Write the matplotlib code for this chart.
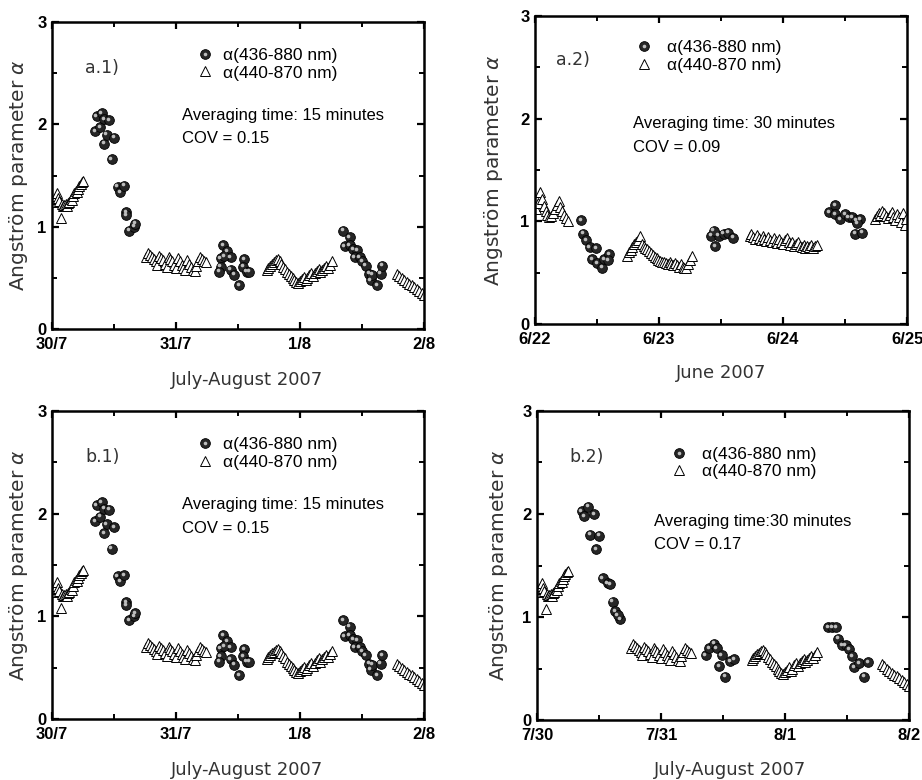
import matplotlib
matplotlib.use('Agg')
import matplotlib.pyplot as plt
import matplotlib.transforms as mtransforms
from matplotlib.legend_handler import HandlerTuple

# DATA ========================================================================

# July-August 2007, 440-870 nm (triangles), time in days from 30/7 00:00.
JUL_TRI_DAYS = [0.01, 0.02, 0.03, 0.04, 0.05, 0.06, 0.07, 0.08, 0.09, 0.10,
                0.11, 0.12, 0.13, 0.14, 0.15, 0.16, 0.17, 0.18, 0.19, 0.20,
                0.21, 0.22, 0.23, 0.24, 0.25,
                0.76, 0.775, 0.79, 0.805, 0.82, 0.835, 0.85, 0.865, 0.88,
                0.895, 0.91, 0.925, 0.94, 0.955, 0.97, 0.985, 1.0, 1.015,
                1.03, 1.045, 1.06, 1.075, 1.09, 1.105, 1.12, 1.135, 1.15,
                1.165, 1.18, 1.195, 1.21, 1.225, 1.24,
                1.73, 1.745, 1.76, 1.775, 1.79, 1.805, 1.82, 1.835, 1.85,
                1.865, 1.88, 1.895, 1.91, 1.925, 1.94, 1.955, 1.97, 1.985,
                2.0, 2.015, 2.03, 2.045, 2.06, 2.075, 2.09, 2.105, 2.12,
                2.135, 2.15, 2.165, 2.18, 2.195, 2.21, 2.225, 2.24, 2.255,
                2.78, 2.80, 2.82, 2.84, 2.86, 2.88, 2.90, 2.92, 2.94, 2.96,
                2.98, 3.0]
JUL_TRI_ALPHA = [1.24, 1.27, 1.30, 1.33, 1.28, 1.25, 1.08, 1.22, 1.20, 1.21,
                 1.22, 1.20, 1.23, 1.24, 1.27, 1.26, 1.30, 1.33, 1.35, 1.34,
                 1.37, 1.40, 1.42, 1.44, 1.45,
                 0.70, 0.74, 0.72, 0.70, 0.68, 0.66, 0.63, 0.71, 0.69,
                 0.67, 0.64, 0.61, 0.70, 0.68, 0.66, 0.63, 0.60, 0.69,
                 0.66, 0.63, 0.60, 0.58, 0.67, 0.64, 0.61, 0.58, 0.57,
                 0.62, 0.66, 0.70, 0.68, 0.66, 0.65,
                 0.58, 0.60, 0.62, 0.64, 0.65, 0.67, 0.68, 0.66, 0.64,
                 0.61, 0.59, 0.56, 0.54, 0.52, 0.50, 0.48, 0.46, 0.45,
                 0.47, 0.49, 0.51, 0.48, 0.50, 0.53, 0.55, 0.52, 0.55,
                 0.57, 0.59, 0.56, 0.58, 0.60, 0.62, 0.60, 0.63, 0.66,
                 0.54, 0.52, 0.50, 0.48, 0.46, 0.44, 0.43, 0.41, 0.39, 0.37,
                 0.35, 0.33]

# July-August 2007, 436-880 nm, 15 minutes (circles).
JUL15_CIR_DAYS = [0.35, 0.36, 0.39, 0.40, 0.42, 0.42, 0.46, 0.44, 0.50, 0.48,
                  0.53, 0.55, 0.58, 0.60, 0.60, 0.62, 0.66, 0.67,
                  1.38, 1.41, 1.44, 1.36, 1.36, 1.35, 1.44, 1.47, 1.51, 1.55,
                  1.54, 1.57, 1.59, 1.39,
                  2.35, 2.36, 2.40, 2.40, 2.43, 2.46, 2.44, 2.48, 2.50, 2.53,
                  2.56, 2.57, 2.58, 2.62, 2.65, 2.66]
JUL15_CIR_ALPHA = [1.93, 2.08, 1.97, 2.11, 2.05, 1.81, 2.04, 1.90, 1.87, 1.66,
                   1.39, 1.34, 1.40, 1.14, 1.11, 0.96, 1.00, 1.03,
                   0.82, 0.76, 0.70, 0.69, 0.61, 0.56, 0.58, 0.53, 0.43, 0.68,
                   0.61, 0.56, 0.56, 0.71,
                   0.96, 0.81, 0.90, 0.82, 0.78, 0.77, 0.70, 0.70, 0.66, 0.62,
                   0.54, 0.48, 0.53, 0.43, 0.54, 0.62]

# July-August 2007, 436-880 nm, 30 minutes (circles).
JUL30_CIR_DAYS = [0.36, 0.38, 0.41, 0.46, 0.43, 0.50, 0.48, 0.53, 0.57, 0.59,
                  0.61, 0.63, 0.67, 0.65,
                  1.36, 1.39, 1.43, 1.45, 1.49, 1.47, 1.52, 1.56, 1.59,
                  2.35, 2.38, 2.41, 2.43, 2.46, 2.49, 2.52, 2.54, 2.56, 2.60,
                  2.64, 2.67]
JUL30_CIR_ALPHA = [2.03, 1.98, 2.07, 2.00, 1.80, 1.79, 1.66, 1.38, 1.33, 1.32,
                   1.15, 1.06, 0.98, 1.02,
                   0.63, 0.70, 0.74, 0.70, 0.63, 0.52, 0.42, 0.57, 0.59,
                   0.90, 0.90, 0.90, 0.79, 0.73, 0.73, 0.69, 0.62, 0.51, 0.55,
                   0.42, 0.56]

# June 2007, 440-870 nm (triangles), days from 6/22 00:00.
JUN_TRI_DAYS = [0.01, 0.025, 0.04, 0.055, 0.07, 0.085, 0.10, 0.115, 0.13,
                0.145, 0.16, 0.175, 0.19, 0.205, 0.22, 0.235, 0.25, 0.265,
                0.74, 0.755, 0.77, 0.785, 0.80, 0.815, 0.83, 0.845, 0.86,
                0.875, 0.89, 0.905, 0.92, 0.935, 0.95, 0.965, 0.98, 0.995,
                1.01, 1.025, 1.04, 1.055, 1.07, 1.085, 1.10, 1.115, 1.13,
                1.145, 1.16, 1.175, 1.19, 1.205, 1.22, 1.235, 1.25, 1.265,
                1.73, 1.745, 1.76, 1.775, 1.79, 1.805, 1.82, 1.835, 1.85,
                1.865, 1.88, 1.895, 1.91, 1.925, 1.94, 1.955, 1.97, 1.985,
                2.0, 2.015, 2.03, 2.045, 2.06, 2.075, 2.09, 2.105, 2.12,
                2.135, 2.15, 2.165, 2.18, 2.195, 2.21, 2.225, 2.24, 2.255,
                2.27,
                2.74, 2.755, 2.77, 2.785, 2.80, 2.815, 2.83, 2.845, 2.86,
                2.875, 2.89, 2.905, 2.92, 2.935, 2.95, 2.965, 2.98, 2.995]
JUN_TRI_ALPHA = [1.12, 1.18, 1.29, 1.22, 1.15, 1.10, 1.06, 1.04, 1.05,
                 1.08, 1.12, 1.16, 1.20, 1.14, 1.10, 1.06, 1.03, 1.00,
                 0.66, 0.70, 0.72, 0.75, 0.78, 0.80, 0.82, 0.86, 0.78,
                 0.76, 0.74, 0.73, 0.71, 0.69, 0.67, 0.65, 0.64, 0.62,
                 0.61, 0.60, 0.60, 0.59, 0.58, 0.60, 0.58, 0.57, 0.59,
                 0.57, 0.56, 0.58, 0.56, 0.55, 0.55, 0.58, 0.62, 0.66,
                 0.86, 0.88, 0.85, 0.83, 0.87, 0.84, 0.82, 0.86, 0.83,
                 0.81, 0.85, 0.82, 0.80, 0.84, 0.81, 0.79, 0.83, 0.80,
                 0.78, 0.82, 0.84, 0.80, 0.77, 0.80, 0.76, 0.78, 0.80,
                 0.76, 0.75, 0.77, 0.74, 0.76, 0.75, 0.77, 0.74, 0.76,
                 0.77,
                 1.02, 1.05, 1.08, 1.06, 1.10, 1.08, 1.05, 1.03, 1.06,
                 1.09, 1.04, 1.01, 1.07, 1.04, 0.99, 1.08, 0.96, 1.02]

# June 2007, 436-880 nm, 30 minutes (circles).
JUN_CIR_DAYS = [0.37, 0.39, 0.41, 0.44, 0.49, 0.46, 0.50, 0.54, 0.56, 0.60,
                0.59,
                1.42, 1.45, 1.48, 1.52, 1.56, 1.60, 1.44,
                2.37, 2.42, 2.42, 2.46, 2.50, 2.53, 2.56, 2.59, 2.62, 2.58,
                2.64, 2.60]
JUN_CIR_ALPHA = [1.01, 0.88, 0.82, 0.75, 0.74, 0.63, 0.59, 0.55, 0.63, 0.68,
                 0.62,
                 0.86, 0.76, 0.86, 0.88, 0.89, 0.84, 0.91,
                 1.09, 1.16, 1.07, 1.02, 1.07, 1.04, 1.04, 1.01, 1.02, 0.88,
                 0.89, 0.98]

# Tick labels.
JUL_EU_LABELS = ['30/7', '31/7', '1/8', '2/8']
JUN_LABELS = ['6/22', '6/23', '6/24', '6/25']
JUL_US_LABELS = ['7/30', '7/31', '8/1', '8/2']
Y_LABELS = ['0', '1', '2', '3']

LEG_LABELS = ['α(436-880 nm)', 'α(440-870 nm)']

# PLOT ========================================================================

fig = plt.figure(figsize=(9.22, 7.8), dpi=100)

LABEL_FONT = 'DejaVu Sans'
TEXT_FONT = 'Liberation Sans'


def draw_panel(rect, tri_x, tri_y, cir_x, cir_y, xlabels, xlabel, tag,
               tag_xy, avg_text, avg_xy, leg_anchor, leg_pad, ylab_x,
               xlab_xy):
    ax = fig.add_axes(rect)
    ax.plot(tri_x, tri_y, ls='none', marker='^', ms=7.2, mfc='white',
            mec='black', mew=0.7)
    ball, = ax.plot(cir_x, cir_y, ls='none', marker='o', ms=7.0,
                    mfc='#262626', mec='black', mew=0.6)
    shift = mtransforms.offset_copy(ax.transData, fig=fig, x=-1.3, y=1.3,
                                    units='dots')
    hi, = ax.plot(cir_x, cir_y, ls='none', marker='o', ms=2.6, mfc='#bdbdbd',
                  mec='none', transform=shift)
    tri_h, = ax.plot([], [], ls='none', marker='^', ms=7.2, mfc='white',
                     mec='black', mew=0.7)

    ax.set_xlim(0, 3)
    ax.set_ylim(0, 3)
    ax.set_xticks([0, 1, 2, 3])
    ax.set_xticks([0.5, 1.5, 2.5], minor=True)
    ax.set_yticks([0, 1, 2, 3])
    ax.set_yticks([0.5, 1.5, 2.5], minor=True)
    ax.set_xticklabels(xlabels, fontweight='bold', family=TEXT_FONT,
                       fontsize=12)
    ax.set_yticklabels(Y_LABELS, fontweight='bold', family=TEXT_FONT,
                       fontsize=12)
    ax.tick_params(which='both', direction='in', top=True, right=True)
    ax.tick_params(which='major', length=5, width=1.6, pad=6)
    ax.tick_params(axis='y', which='major', pad=4)
    ax.tick_params(which='minor', length=3.5, width=1.4)
    for sp in ax.spines.values():
        sp.set_linewidth(1.8)

    ax.set_ylabel('Angström parameter $\\alpha$', family=LABEL_FONT,
                  fontsize=14.5, color='#333333')
    ax.yaxis.set_label_coords(ylab_x, 0.5)
    ax.set_xlabel(xlabel, family=LABEL_FONT, fontsize=13, color='#333333')
    ax.xaxis.set_label_coords(xlab_xy[0], xlab_xy[1])

    ax.text(tag_xy[0], tag_xy[1], tag, family=LABEL_FONT, fontsize=12.5,
            color='#333333', va='center', ha='left')
    ax.text(avg_xy[0], avg_xy[1], avg_text[0], family=TEXT_FONT,
            fontsize=12, va='center', ha='left')
    ax.text(avg_xy[0], avg_xy[1] - 0.23, avg_text[1], family=TEXT_FONT,
            fontsize=12, va='center', ha='left')

    ax.legend([(ball, hi), tri_h], LEG_LABELS,
              handler_map={tuple: HandlerTuple(ndivide=1)},
              loc='center left', bbox_to_anchor=leg_anchor, frameon=False,
              borderpad=0, borderaxespad=0, handlelength=1.0,
              handletextpad=leg_pad, labelspacing=0.15,
              prop={'family': TEXT_FONT, 'size': 12.5})
    return ax


draw_panel([0.0564, 0.5782, 0.4035, 0.3936], JUL_TRI_DAYS, JUL_TRI_ALPHA,
           JUL15_CIR_DAYS, JUL15_CIR_ALPHA, JUL_EU_LABELS,
           'July-August 2007', 'a.1)', (0.27, 2.55),
           ('Averaging time: 15 minutes', 'COV = 0.15'), (1.05, 2.09),
           (0.387, 0.863), 0.57, -0.059, (0.525, -0.137))

draw_panel([0.5803, 0.5846, 0.4035, 0.3949], JUN_TRI_DAYS, JUN_TRI_ALPHA,
           JUN_CIR_DAYS, JUN_CIR_ALPHA, JUN_LABELS,
           'June 2007', 'a.2)', (0.17, 2.57),
           ('Averaging time: 30 minutes', 'COV = 0.09'), (0.79, 1.95),
           (0.27, 0.868), 0.84, -0.081, (0.5, -0.13))

draw_panel([0.0564, 0.0782, 0.4035, 0.3949], JUL_TRI_DAYS, JUL_TRI_ALPHA,
           JUL15_CIR_DAYS, JUL15_CIR_ALPHA, JUL_EU_LABELS,
           'July-August 2007', 'b.1)', (0.27, 2.55),
           ('Averaging time: 15 minutes', 'COV = 0.15'), (1.05, 2.09),
           (0.387, 0.863), 0.57, -0.059, (0.525, -0.136))

draw_panel([0.5824, 0.0769, 0.4035, 0.3962], JUL_TRI_DAYS, JUL_TRI_ALPHA,
           JUL30_CIR_DAYS, JUL30_CIR_ALPHA, JUL_US_LABELS,
           'July-August 2007', 'b.2)', (0.26, 2.55),
           ('Averaging time:30 minutes', 'COV = 0.17'), (0.94, 1.93),
           (0.358, 0.832), 0.84, -0.073, (0.52, -0.133))

fig.savefig('out.png', dpi=100)
